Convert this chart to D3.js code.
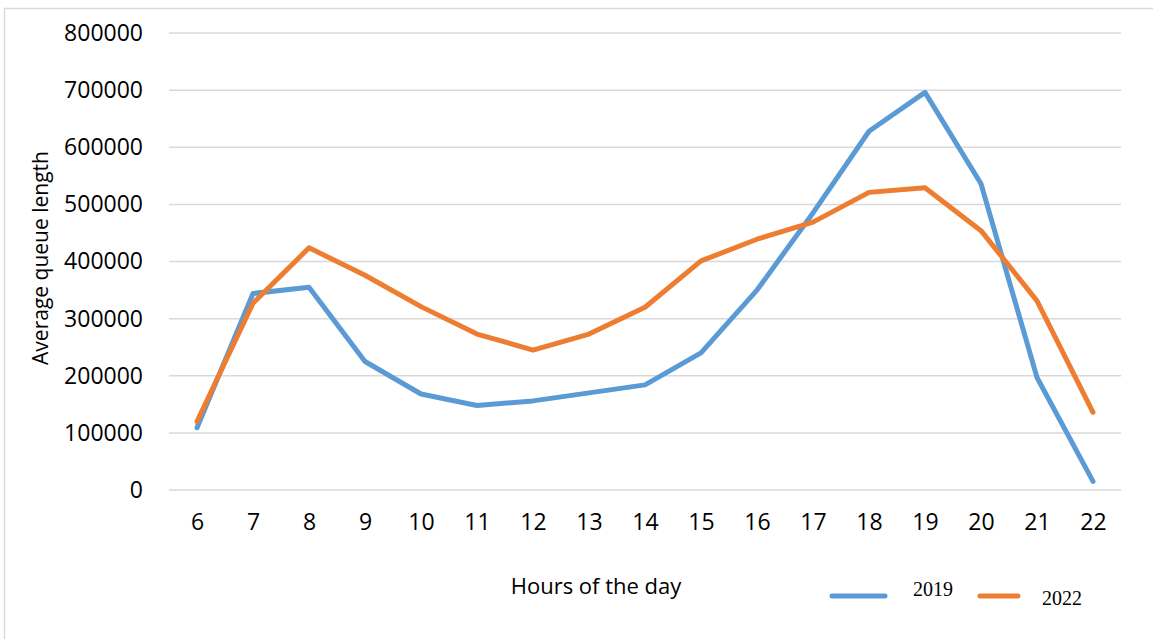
<!DOCTYPE html>
<html>
<head>
<meta charset="utf-8">
<script src="https://cdn.jsdelivr.net/npm/d3@7"></script>
<style>
  body { margin: 0; background: #fff; }
  svg { display: block; }
</style>
</head>
<body>
<div id="chart"></div>
<script>
const hours = ["6","7","8","9","10","11","12","13","14","15","16","17","18","19","20","21","22"];
const values2019 = [109000,344000,355000,225000,168000,148000,156000,170000,184000,240000,350000,485000,628000,696000,536000,197000,15000];
const values2022 = [120000,327000,424000,376000,321000,273000,245000,273000,320000,401000,439000,469000,521000,529000,454000,331000,136000];
const yTicks = [0,100000,200000,300000,400000,500000,600000,700000,800000];
const seriesNames = ["2019","2022"];
const colors = ["#5B9BD5","#ED7D31"];

const w = 1153;
const h = 639;
const plotLeft = 169, plotRight = 1121, plotTop = 33, plotBottom = 490;

const svg = d3.select("#chart").append("svg")
  .attr("width", w)
  .attr("height", h);

// chart frame (only top/left visible in the crop)
svg.append("rect")
  .attr("x", 4.5).attr("y", 8.5)
  .attr("width", 1200).attr("height", 700)
  .attr("fill", "none")
  .attr("stroke", "#D9D9D9")
  .attr("stroke-width", 1.5);

const xScale = d3.scalePoint()
  .domain(hours)
  .range([plotLeft, plotRight])
  .padding(0.5);

const yScale = d3.scaleLinear()
  .domain([0, 800000])
  .range([plotBottom, plotTop]);

// gridlines
svg.append("g")
  .selectAll("line")
  .data(yTicks)
  .enter()
  .append("line")
  .attr("x1", plotLeft)
  .attr("x2", plotRight)
  .attr("y1", d => yScale(d))
  .attr("y2", d => yScale(d))
  .attr("stroke", "#D9D9D9")
  .attr("stroke-width", 1.5);

// y axis labels
const yAxis = d3.axisLeft(yScale).tickValues(yTicks).tickSize(0).tickPadding(26).tickFormat(d3.format("d"));
svg.append("g")
  .attr("transform", "translate(" + plotLeft + ",0)")
  .call(yAxis)
  .call(g => g.select(".domain").remove())
  .selectAll("text")
  .attr("font-family", "'Open Sans', sans-serif")
  .attr("font-size", 23)
  .attr("fill", "#000");

// x axis labels
const xAxis = d3.axisBottom(xScale).tickSize(0).tickPadding(24);
svg.append("g")
  .attr("transform", "translate(0," + plotBottom + ")")
  .call(xAxis)
  .call(g => g.select(".domain").remove())
  .selectAll("text")
  .attr("font-family", "'Open Sans', sans-serif")
  .attr("font-size", 23)
  .attr("fill", "#000");

// axis titles
svg.append("text")
  .attr("x", 596)
  .attr("y", 594)
  .attr("text-anchor", "middle")
  .attr("font-family", "'Open Sans', sans-serif")
  .attr("font-size", 22)
  .text("Hours of the day");

svg.append("text")
  .attr("transform", "translate(48,258) rotate(-90)")
  .attr("text-anchor", "middle")
  .attr("font-family", "'Open Sans', sans-serif")
  .attr("font-size", 21)
  .text("Average queue length");

// lines
const line = d3.line()
  .x((d, i) => xScale(hours[i]))
  .y(d => yScale(d));

[values2019, values2022].forEach((vals, k) => {
  svg.append("path")
    .datum(vals)
    .attr("d", line)
    .attr("fill", "none")
    .attr("stroke", colors[k])
    .attr("stroke-width", 5)
    .attr("stroke-linejoin", "round")
    .attr("stroke-linecap", "round");
});

// legend
const legend = [
  { name: seriesNames[0], x1: 832, x2: 885, y: 596, tx: 913, ty: 596 },
  { name: seriesNames[1], x1: 980, x2: 1018, y: 596, tx: 1042, ty: 605 }
];
legend.forEach((l, k) => {
  svg.append("line")
    .attr("x1", l.x1).attr("x2", l.x2)
    .attr("y1", l.y).attr("y2", l.y)
    .attr("stroke", colors[k])
    .attr("stroke-width", 5)
    .attr("stroke-linecap", "round");
  svg.append("text")
    .attr("x", l.tx)
    .attr("y", l.ty)
    .attr("font-family", "'Liberation Serif', 'Times New Roman', serif")
    .attr("font-size", 20)
    .text(l.name);
});
</script>
</body>
</html>
